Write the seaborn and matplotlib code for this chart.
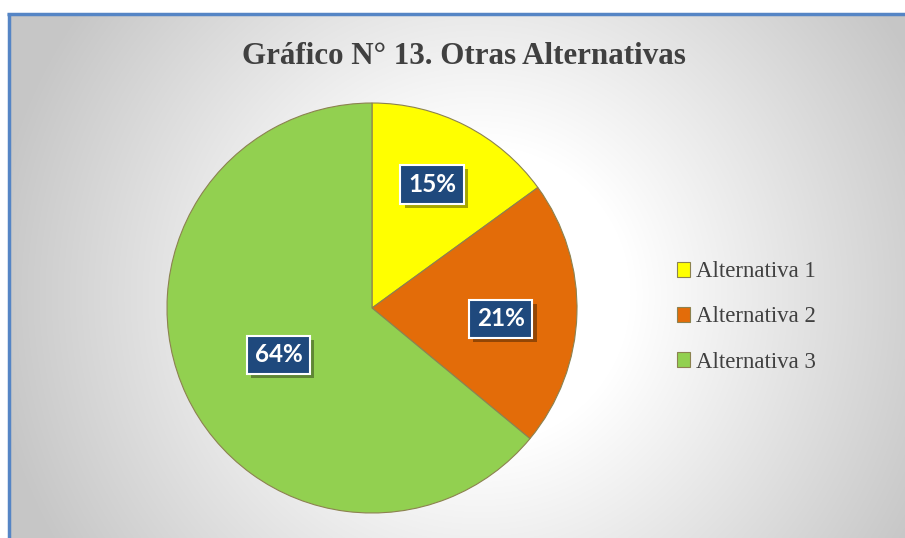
import numpy as np
import seaborn as sns
import matplotlib.pyplot as plt
from matplotlib import patheffects as pe
from matplotlib.lines import Line2D

categories = ["Alternativa 1", "Alternativa 2", "Alternativa 3"]
shares = [15, 21, 64]
label_texts = ["15%", "21%", "64%"]
title = "Gráfico N° 13. Otras Alternativas"

sns.set_theme(style="white")
plt.rcParams["font.family"] = ["Liberation Serif", "DejaVu Serif"]
palette = sns.color_palette(["#FFFF00", "#E36C09", "#92D050"])

fig = plt.figure(figsize=(9.05, 5.38), dpi=100)
fig.patch.set_facecolor("white")

# radial gradient background inside the chart frame (pixel grid)
x0, y0 = 9, 14
bg = fig.add_axes([x0 / 905, 0, 1 - x0 / 905, 1 - y0 / 538], zorder=0)
yy, xx = np.mgrid[y0:538, x0:905]
r = np.hypot(xx - 480, yy - 295)
val = np.clip(1 - 0.22 * (r - 150) / 340, 0.78, 1.0)
bg.imshow(np.dstack([val, val, val]), aspect="auto", interpolation="bilinear")
bg.axis("off")

# blue frame edges (left and top)
fig.add_artist(Line2D([8.5 / 905, 8.5 / 905], [0, 1 - 13 / 538], color="#5585C5", lw=2.5,
                      transform=fig.transFigure, solid_capstyle="butt"))
fig.add_artist(Line2D([7 / 905, 1], [1 - 13.5 / 538, 1 - 13.5 / 538], color="#5585C5", lw=2.5,
                      transform=fig.transFigure, solid_capstyle="butt"))

ax = fig.add_axes([167 / 905, 25 / 538, 410 / 905, 410 / 538], zorder=2)
ax.set_facecolor("none")
wedges, _ = ax.pie(shares, colors=palette, startangle=90, counterclock=False,
                   radius=1, wedgeprops=dict(edgecolor="#8C8250", linewidth=0.8))
ax.set_xlim(-1, 1)
ax.set_ylim(-1, 1)
ax.set_aspect("equal")
ax.axis("off")

label_dist = [0.67, 0.63, 0.51]
label_ang_shift = [1, -3, 1.5]
for w, txt, d, s in zip(wedges, label_texts, label_dist, label_ang_shift):
    ang = np.deg2rad((w.theta1 + w.theta2) / 2 + s)
    t = ax.text(d * np.cos(ang), d * np.sin(ang), txt, ha="center", va="center",
                color="white", fontsize=17.5, fontweight="bold", family="Lato",
                bbox=dict(boxstyle="square,pad=0.32", facecolor="#1F497D",
                          edgecolor="white", linewidth=1.5))
    t.get_bbox_patch().set_path_effects([
        pe.SimplePatchShadow(offset=(3, -3), shadow_rgbFace="#000000", alpha=0.35),
        pe.Normal()])

fig.text(464 / 905, 1 - 57 / 538, title, ha="center", va="center",
         fontsize=22.3, fontweight="bold", color="#404040")

handles = [plt.Rectangle((0, 0), 1, 1, facecolor=c, edgecolor="#8C8250", linewidth=0.8)
           for c in palette]
fig.legend(handles, categories, loc="center left", bbox_to_anchor=(656 / 905, 1 - 317 / 538),
           frameon=False, fontsize=16.5, handlelength=0.6, handleheight=0.6,
           handletextpad=0.25, labelspacing=1.05, labelcolor="#404040")

fig.savefig("out.png", dpi=100)
